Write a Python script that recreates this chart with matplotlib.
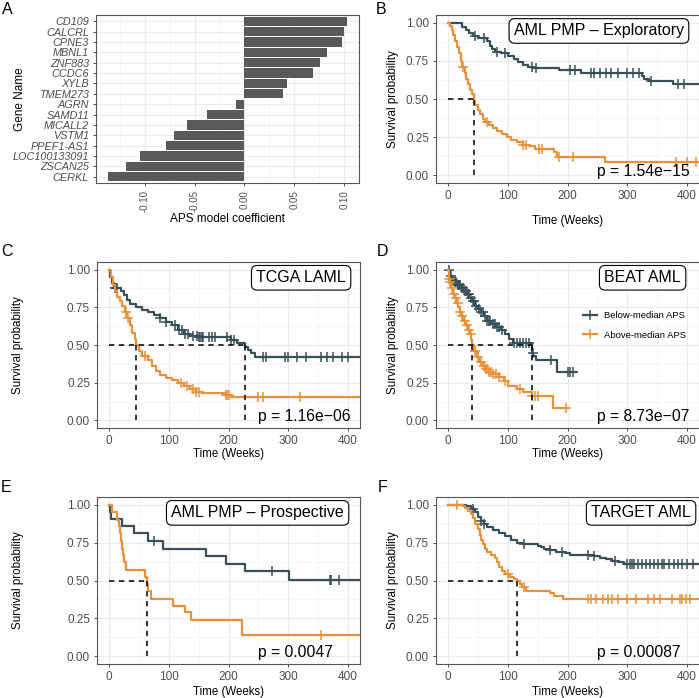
import numpy as np
import matplotlib
matplotlib.use("Agg")
import matplotlib.pyplot as plt

plt.rcParams['font.family'] = ['Liberation Sans', 'DejaVu Sans']

DARK = "#37505A"
ORANGE = "#E8913B"
GRID = "#EBEBEB"
TXT = "#4D4D4D"

# ---- panel A: model coefficients
genes = ["CD109", "CALCRL", "CPNE3", "MBNL1", "ZNF883", "CCDC6", "XYLB", "TMEM273",
         "AGRN", "SAMD11", "MICALL2", "VSTM1", "PPEF1-AS1", "LOC100133091", "ZSCAN25", "CERKL"]
coefs = [0.1027, 0.0993, 0.0973, 0.0823, 0.0757, 0.0690, 0.0423, 0.0390,
         -0.0080, -0.0373, -0.0573, -0.0707, -0.0783, -0.1043, -0.1183, -0.1367]

# ---- KM curves: step times, survival after step, censor times, last follow-up
# B: AML PMP - Exploratory
b_low_t = [0, 24, 30, 36, 42, 50, 66, 70, 74, 78, 88, 100, 110, 118, 126, 134, 143, 185, 222, 324, 328, 336, 376]
b_low_s = [1.0, 0.97, 0.95, 0.93, 0.91, 0.90, 0.88, 0.85, 0.83, 0.81, 0.80, 0.78, 0.76, 0.74, 0.72, 0.71, 0.70, 0.69, 0.67, 0.65, 0.63, 0.62, 0.60]
b_low_c = [45, 60, 82, 95, 140, 148, 205, 212, 240, 245, 255, 265, 272, 285, 300, 310, 320, 340, 385, 395]
b_low_end = 420
b_high_t = [0, 3, 6, 9, 12, 15, 18, 21, 24, 28, 31, 34, 37, 40, 43, 46, 50, 54, 58, 62, 68, 75, 82, 90, 98, 105, 115, 125, 135, 145, 178, 182, 263]
b_high_s = [1.0, 0.98, 0.95, 0.92, 0.88, 0.84, 0.80, 0.75, 0.71, 0.67, 0.63, 0.60, 0.56, 0.53, 0.49, 0.46, 0.43, 0.40, 0.37, 0.35, 0.33, 0.31, 0.29, 0.27, 0.25, 0.23, 0.22, 0.20, 0.19, 0.17, 0.15, 0.12, 0.09]
b_high_c = [25, 65, 125, 130, 152, 157, 185, 210, 382, 400, 415]
b_high_end = 420

# C: TCGA LAML
c_low_t = [0, 2, 5, 8, 20, 25, 30, 35, 45, 55, 65, 75, 85, 95, 105, 115, 125, 135, 150, 205, 215, 228, 232, 238, 245]
c_low_s = [1.0, 0.95, 0.91, 0.88, 0.86, 0.83, 0.80, 0.77, 0.75, 0.73, 0.72, 0.70, 0.68, 0.65, 0.63, 0.60, 0.57, 0.56, 0.55, 0.53, 0.51, 0.49, 0.47, 0.45, 0.42]
c_low_c = [10, 12, 14, 85, 95, 110, 118, 122, 128, 132, 140, 148, 150, 152, 155, 158, 168, 172, 178, 198, 205, 210,
           258, 262, 295, 300, 315, 330, 355, 365, 375, 390, 400]
c_low_end = 420
c_high_t = [0, 3, 6, 10, 14, 18, 22, 27, 31, 35, 39, 43, 46, 50, 55, 65, 72, 78, 85, 95, 105, 115, 125, 135, 145, 155, 195, 205]
c_high_s = [1.0, 0.95, 0.90, 0.86, 0.82, 0.79, 0.76, 0.72, 0.68, 0.63, 0.58, 0.54, 0.50, 0.46, 0.43, 0.40, 0.36, 0.33, 0.30, 0.28, 0.27, 0.25, 0.23, 0.21, 0.19, 0.18, 0.17, 0.155]
c_high_c = [28, 32, 60, 120, 130, 140, 145, 150, 195, 197, 200, 250, 258, 320]
c_high_end = 420

# D: BEAT AML
d_low_t = [0, 3, 6, 10, 15, 22, 27, 32, 36, 40, 45, 50, 55, 60, 65, 72, 80, 88, 95, 102, 108, 140, 143, 148, 183]
d_low_s = [1.0, 0.96, 0.93, 0.92, 0.90, 0.88, 0.86, 0.84, 0.81, 0.79, 0.76, 0.74, 0.72, 0.69, 0.66, 0.64, 0.62, 0.60, 0.57, 0.54, 0.51, 0.45, 0.43, 0.40, 0.32]
d_low_c = [2, 5, 8, 12, 14, 16, 18, 20, 24, 26, 28, 30, 33, 35, 38, 42, 44, 47, 52, 55, 58, 62, 65, 68, 70,
           75, 78, 82, 85, 90, 110, 115, 120, 125, 130, 135, 142, 172, 200, 205, 210]
d_low_end = 215
d_high_t = [0, 1, 3, 5, 8, 11, 14, 17, 20, 23, 26, 29, 33, 36, 39, 41, 44, 48, 52, 57, 62, 68, 75, 85, 93, 100, 115, 125, 140, 175]
d_high_s = [1.0, 0.94, 0.92, 0.88, 0.84, 0.81, 0.78, 0.75, 0.72, 0.69, 0.66, 0.63, 0.60, 0.57, 0.53, 0.50, 0.46, 0.42, 0.39, 0.36, 0.34, 0.32, 0.31, 0.29, 0.26, 0.23, 0.21, 0.19, 0.165, 0.08]
d_high_c = [2, 4, 6, 10, 13, 16, 20, 24, 28, 32, 35, 38, 45, 50, 55, 60, 63, 65, 68, 72, 75, 80, 85, 95,
            120, 140, 145, 150, 198]
d_high_end = 198

# E: AML PMP - Prospective
e_low_t = [0, 2, 4, 22, 42, 65, 90, 163, 195, 228, 302]
e_low_s = [1.0, 0.95, 0.905, 0.86, 0.81, 0.76, 0.71, 0.66, 0.61, 0.56, 0.505]
e_low_c = [75, 273, 370, 372, 385]
e_low_end = 420
e_high_t = [0, 5, 13, 16, 18, 20, 22, 24, 26, 28, 60, 63, 66, 70, 107, 128, 137, 222]
e_high_s = [1.0, 0.95, 0.90, 0.86, 0.81, 0.76, 0.71, 0.67, 0.62, 0.57, 0.52, 0.48, 0.43, 0.38, 0.33, 0.29, 0.24, 0.14]
e_high_c = [355]
e_high_end = 420

# F: TARGET AML
f_low_t = [0, 30, 38, 42, 46, 50, 55, 60, 66, 75, 85, 95, 105, 115, 125, 150, 155, 160, 170, 180, 195, 205,
           245, 255, 265, 275, 285, 295]
f_low_s = [1.0, 0.99, 0.98, 0.97, 0.95, 0.92, 0.89, 0.87, 0.85, 0.83, 0.81, 0.79, 0.77, 0.75, 0.74, 0.73, 0.72,
           0.71, 0.70, 0.69, 0.68, 0.67, 0.66, 0.65, 0.64, 0.63, 0.62, 0.61]
f_low_c = [42, 55, 60, 128, 170, 190, 235, 245, 280, 300, 305, 308, 312, 318, 325, 332, 338, 345, 352, 358,
           362, 370, 378, 385, 392, 400, 410]
f_low_end = 420
f_high_t = [0, 25, 28, 33, 38, 42, 46, 50, 53, 56, 59, 62, 66, 72, 78, 82, 86, 90, 95, 103, 110, 116, 120, 124,
            130, 170, 177, 192]
f_high_s = [1.0, 0.99, 0.98, 0.96, 0.94, 0.91, 0.87, 0.84, 0.80, 0.77, 0.74, 0.71, 0.69, 0.67, 0.65, 0.62, 0.59,
            0.56, 0.54, 0.52, 0.51, 0.50, 0.48, 0.46, 0.43, 0.42, 0.40, 0.38]
f_high_c = [15, 100, 128, 235, 240, 248, 260, 268, 275, 285, 300, 315, 335, 345, 355, 375, 388, 392, 398, 405]
f_high_end = 420

panels = [
    ("B", "AML PMP \u2013 Exploratory", "p = 1.54e\u221215",
     (b_low_t, b_low_s, b_low_c, b_low_end), (b_high_t, b_high_s, b_high_c, b_high_end)),
    ("C", "TCGA LAML", "p = 1.16e\u221206",
     (c_low_t, c_low_s, c_low_c, c_low_end), (c_high_t, c_high_s, c_high_c, c_high_end)),
    ("D", "BEAT AML", "p = 8.73e\u221207",
     (d_low_t, d_low_s, d_low_c, d_low_end), (d_high_t, d_high_s, d_high_c, d_high_end)),
    ("E", "AML PMP \u2013 Prospective", "p = 0.0047",
     (e_low_t, e_low_s, e_low_c, e_low_end), (e_high_t, e_high_s, e_high_c, e_high_end)),
    ("F", "TARGET AML", "p = 0.00087",
     (f_low_t, f_low_s, f_low_c, f_low_end), (f_high_t, f_high_s, f_high_c, f_high_end)),
]

W, H = 699, 698
fig = plt.figure(figsize=(W / 100, H / 100), dpi=100)


def px_axes(l, r, t, b):
    return fig.add_axes([l / W, 1 - b / H, (r - l) / W, (b - t) / H])


def style(ax):
    for s in ax.spines.values():
        s.set_color("#555555")
        s.set_linewidth(0.8)
    ax.tick_params(colors="#333333", labelcolor=TXT, length=2.5, width=0.6, labelsize=8.5, pad=2.5)
    ax.grid(True, which="major", color=GRID, lw=0.9)
    ax.grid(True, which="minor", color="#F5F5F5", lw=0.6)
    ax.tick_params(which="minor", length=0)
    ax.set_axisbelow(True)


# panel A
axA = px_axes(96, 359, 15, 183)
style(axA)
ypos = np.arange(len(genes))[::-1] + 1
axA.barh(ypos, coefs, height=0.9, color="#595959", zorder=2)
axA.set_yticks(ypos)
axA.set_yticklabels(genes, fontstyle="italic", fontsize=7.8)
axA.set_ylim(0.4, len(genes) + 0.6)
axA.set_xlim(-0.1487, 0.1147)
axA.set_xticks([-0.10, -0.05, 0.0, 0.05, 0.10])
axA.set_xticklabels(["-0.10", "-0.05", "0.00", "0.05", "0.10"], rotation=90, fontsize=7)
axA.set_xticks([-0.125, -0.075, -0.025, 0.025, 0.075], minor=True)
axA.set_xlabel("APS model coefficient", fontsize=8.5, labelpad=1)
axA.set_ylabel("Gene Name", fontsize=8.5)
axA.yaxis.set_label_coords((26 - 96) / 263, 0.5)
fig.text(2 / W, 1 - 9 / H, "A", fontsize=11.5, va="center")

boxes = {"B": (436, 699, 15, 183), "C": (97, 360, 262, 428), "D": (436, 699, 262, 428),
         "E": (97, 360, 497, 664), "F": (436, 699, 497, 664)}
letter_pos = {"B": (376, 9), "C": (1, 251), "D": (377, 251), "E": (1, 487), "F": (378, 487)}
ylab_x = {"B": 399, "C": 24, "D": 399, "E": 24, "F": 399}
xlab_y = {"B": -0.19, "C": None, "D": None, "E": -0.13, "F": -0.13}
box_right = {"B": 690, "C": 352, "D": 687, "E": 350, "F": 697}


def km(ax, t, s, c, end, color):
    t = np.asarray(t, float)
    s = np.asarray(s, float)
    ax.step(np.append(t, end), np.append(s, s[-1]), where="post", color=color, lw=1.6, zorder=3)
    idx = np.searchsorted(t, c, side="right") - 1
    ax.plot(c, s[idx], ls="none", marker="+", ms=7.5, mew=1.1, color=color, zorder=3)
    below = np.nonzero(s <= 0.5)[0]
    return t[below[0]] if len(below) else None


for letter, title, ptxt, low, high in panels:
    l, r, t, b = boxes[letter]
    ax = px_axes(l, r, t, b)
    style(ax)
    m1 = km(ax, *low, DARK)
    m2 = km(ax, *high, ORANGE)
    meds = [m for m in (m1, m2) if m is not None]
    if meds:
        ax.plot([0, max(meds)], [0.5, 0.5], color="black", ls=(0, (3.5, 3)), lw=1.1, zorder=4)
        for m in meds:
            ax.plot([m, m], [0, 0.5], color="black", ls=(0, (3.5, 3)), lw=1.1, zorder=4)
    ax.set_xlim(-20, 420)
    ax.set_ylim(-0.05, 1.05)
    ax.set_xticks([0, 100, 200, 300, 400])
    ax.set_xticks([50, 150, 250, 350], minor=True)
    ax.set_yticks([0, 0.25, 0.5, 0.75, 1.0])
    ax.set_yticklabels(["0.00", "0.25", "0.50", "0.75", "1.00"])
    ax.set_yticks([0.125, 0.375, 0.625, 0.875], minor=True)
    ax.set_xlabel("Time (Weeks)", fontsize=8.3, labelpad=0.5)
    if xlab_y[letter] is not None:
        ax.xaxis.set_label_coords(0.5, xlab_y[letter])
    ax.set_ylabel("Survival probability", fontsize=8.4)
    ax.yaxis.set_label_coords((ylab_x[letter] - l) / (r - l), 0.5)
    ax.text((box_right[letter] - 6 - l) / (r - l), 0.905, title, transform=ax.transAxes, ha="right",
            va="center", fontsize=11.5, zorder=6,
            bbox=dict(boxstyle="round,pad=0.3,rounding_size=0.35", fc="white", ec="black", lw=0.8))
    ax.text(250, 0.025, ptxt, ha="left", va="center", fontsize=11.3, zorder=6)
    lx, ly = letter_pos[letter]
    fig.text(lx / W, 1 - ly / H, letter, fontsize=11.5, va="center")
    if letter == "D":
        h1, = ax.plot([], [], color=DARK, lw=1.6, marker="+", ms=7.5, mew=1.1)
        h2, = ax.plot([], [], color=ORANGE, lw=1.6, marker="+", ms=7.5, mew=1.1)
        ax.legend([h1, h2], ["Below-median APS", "Above-median APS"], loc="upper left",
                  bbox_to_anchor=(0.525, 0.755), frameon=False, fontsize=6.8,
                  handlelength=1.5, labelspacing=1.1)

fig.savefig("out.png", dpi=100)
